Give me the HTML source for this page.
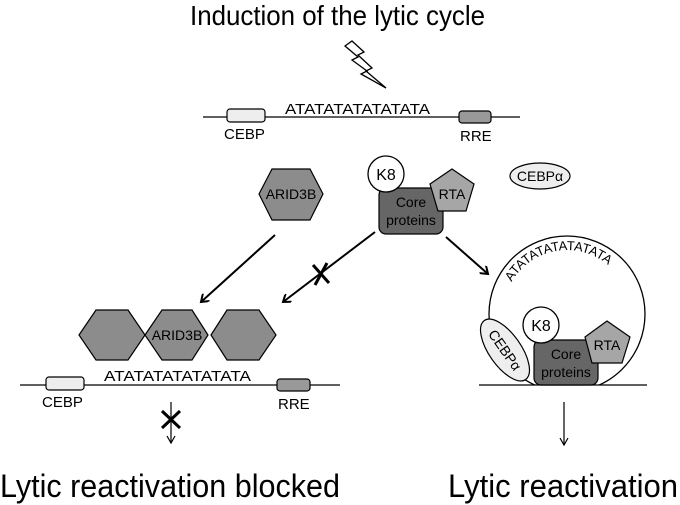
<!DOCTYPE html>
<html><head><meta charset="utf-8"><style>
html,body{margin:0;padding:0;background:#fff}
svg{display:block}
text{font-family:"Liberation Sans",sans-serif}
</style></head><body>
<svg width="680" height="505" viewBox="0 0 680 505" xmlns="http://www.w3.org/2000/svg">
<defs>
<marker id="ah" markerWidth="10" markerHeight="10" refX="8" refY="5" orient="auto" markerUnits="userSpaceOnUse">
<path d="M1,0 L8,5 L1,10" fill="none" stroke="#000" stroke-width="2"/>
</marker>
<marker id="ah2" markerWidth="10" markerHeight="10" refX="8" refY="5" orient="auto" markerUnits="userSpaceOnUse">
<path d="M1,1 L8,5 L1,9" fill="none" stroke="#000" stroke-width="1.2"/>
</marker>
<clipPath id="cl"><rect x="0" y="0" width="680" height="385"/></clipPath>
</defs>
<text x="190" y="25" font-size="28" textLength="295" lengthAdjust="spacingAndGlyphs">Induction of the lytic cycle</text>
<path d="M352,41 L364,52 L358,55 L372,68 L366,71 L386,88 L361,74 L367,71 L352,60 L358,57 L345,46 Z" fill="#fff" stroke="#000" stroke-width="1.3"/>
<line x1="203" y1="117" x2="520" y2="117" stroke="#000" stroke-width="1.3"/>
<rect x="227" y="109" width="38" height="13" rx="3" fill="#eee" stroke="#000" stroke-width="1.2"/>
<rect x="459" y="111" width="32" height="12" rx="3" fill="#999" stroke="#000" stroke-width="1.2"/>
<text x="285" y="114" font-size="15" textLength="145" lengthAdjust="spacingAndGlyphs">ATATATATATATATA</text>
<text x="224" y="139" font-size="15">CEBP</text>
<text x="460" y="141" font-size="15">RRE</text>
<polygon points="259,194 272,169 310,169 323,194 310,220 272,220" fill="#8c8c8c" stroke="#000" stroke-width="1.2"/>
<text x="291" y="199" font-size="14" text-anchor="middle">ARID3B</text>
<rect x="379" y="188" width="64" height="46" rx="7" fill="#666" stroke="#000" stroke-width="1.2"/>
<text x="411" y="207" font-size="14" text-anchor="middle">Core</text>
<text x="411" y="225" font-size="14" text-anchor="middle">proteins</text>
<polygon points="452,169 474,184 466,211 438,211 430,184" fill="#a6a6a6" stroke="#000" stroke-width="1.2"/>
<text x="452" y="199" font-size="14" text-anchor="middle">RTA</text>
<circle cx="386" cy="174" r="18" fill="#fff" stroke="#000" stroke-width="1.3"/>
<text x="386" y="180" font-size="16" text-anchor="middle">K8</text>
<ellipse cx="540" cy="176" rx="30" ry="13" fill="#eee" stroke="#000" stroke-width="1.2"/>
<text x="540" y="181" font-size="14" text-anchor="middle">CEBPα</text>
<line x1="275" y1="235" x2="201" y2="302" stroke="#000" stroke-width="2" marker-end="url(#ah)"/>
<line x1="375" y1="232" x2="283" y2="302" stroke="#000" stroke-width="2" marker-end="url(#ah)"/>
<line x1="313" y1="265" x2="329" y2="283" stroke="#000" stroke-width="3"/>
<line x1="327" y1="263" x2="315" y2="285" stroke="#000" stroke-width="3"/>
<line x1="446" y1="237" x2="488" y2="274" stroke="#000" stroke-width="2" marker-end="url(#ah)"/>
<polygon points="79,335 96,310 128,310 145,335 128,360 96,360" fill="#8c8c8c" stroke="#000" stroke-width="1.2"/>
<polygon points="145,335 162,310 192,310 208,335 192,360 162,360" fill="#8c8c8c" stroke="#000" stroke-width="1.2"/>
<polygon points="211,335 227,310 259,310 276,335 259,360 227,360" fill="#8c8c8c" stroke="#000" stroke-width="1.2"/>
<text x="177" y="340" font-size="14" text-anchor="middle">ARID3B</text>
<line x1="20" y1="385" x2="340" y2="385" stroke="#000" stroke-width="1.3"/>
<rect x="46" y="377" width="38" height="13" rx="3" fill="#eee" stroke="#000" stroke-width="1.2"/>
<rect x="277" y="379" width="33" height="12" rx="3" fill="#999" stroke="#000" stroke-width="1.2"/>
<text x="104" y="381" font-size="15" textLength="147" lengthAdjust="spacingAndGlyphs">ATATATATATATATA</text>
<text x="42" y="407" font-size="15">CEBP</text>
<text x="278" y="409" font-size="15">RRE</text>
<line x1="171" y1="402" x2="171" y2="443" stroke="#000" stroke-width="1.2" marker-end="url(#ah2)"/>
<line x1="162" y1="411" x2="180" y2="428" stroke="#000" stroke-width="3"/>
<line x1="180" y1="411" x2="162" y2="428" stroke="#000" stroke-width="3"/>
<circle cx="567" cy="314" r="78" fill="#fff" stroke="#000" stroke-width="1.3" clip-path="url(#cl)"/>
<path id="arc" d="M511.6,282 A64,64 0 0 1 627.1,292.1" fill="none"/>
<text font-size="13"><textPath href="#arc">ATATATATATATATA</textPath></text>
<line x1="479" y1="385" x2="647" y2="385" stroke="#000" stroke-width="1.3"/>
<ellipse cx="505" cy="350" rx="36" ry="16" transform="rotate(55 505 350)" fill="#eee" stroke="#000" stroke-width="1.2"/>
<text x="505" y="355" font-size="14" text-anchor="middle" transform="rotate(55 505 350)">CEBPα</text>
<rect x="534" y="340" width="64" height="45" rx="7" fill="#666" stroke="#000" stroke-width="1.2"/>
<text x="566" y="359" font-size="14" text-anchor="middle">Core</text>
<text x="566" y="377" font-size="14" text-anchor="middle">proteins</text>
<polygon points="607,321 630,337 622,363 592,363 585,337" fill="#a6a6a6" stroke="#000" stroke-width="1.2"/>
<text x="607" y="350" font-size="14" text-anchor="middle">RTA</text>
<circle cx="541" cy="325" r="18" fill="#fff" stroke="#000" stroke-width="1.3"/>
<text x="541" y="331" font-size="16" text-anchor="middle">K8</text>
<line x1="564" y1="402" x2="564" y2="445" stroke="#000" stroke-width="1.2" marker-end="url(#ah2)"/>
<text x="0" y="497" font-size="32" textLength="340" lengthAdjust="spacingAndGlyphs">Lytic reactivation blocked</text>
<text x="448" y="497" font-size="32" textLength="230" lengthAdjust="spacingAndGlyphs">Lytic reactivation</text>
</svg>
</body></html>
